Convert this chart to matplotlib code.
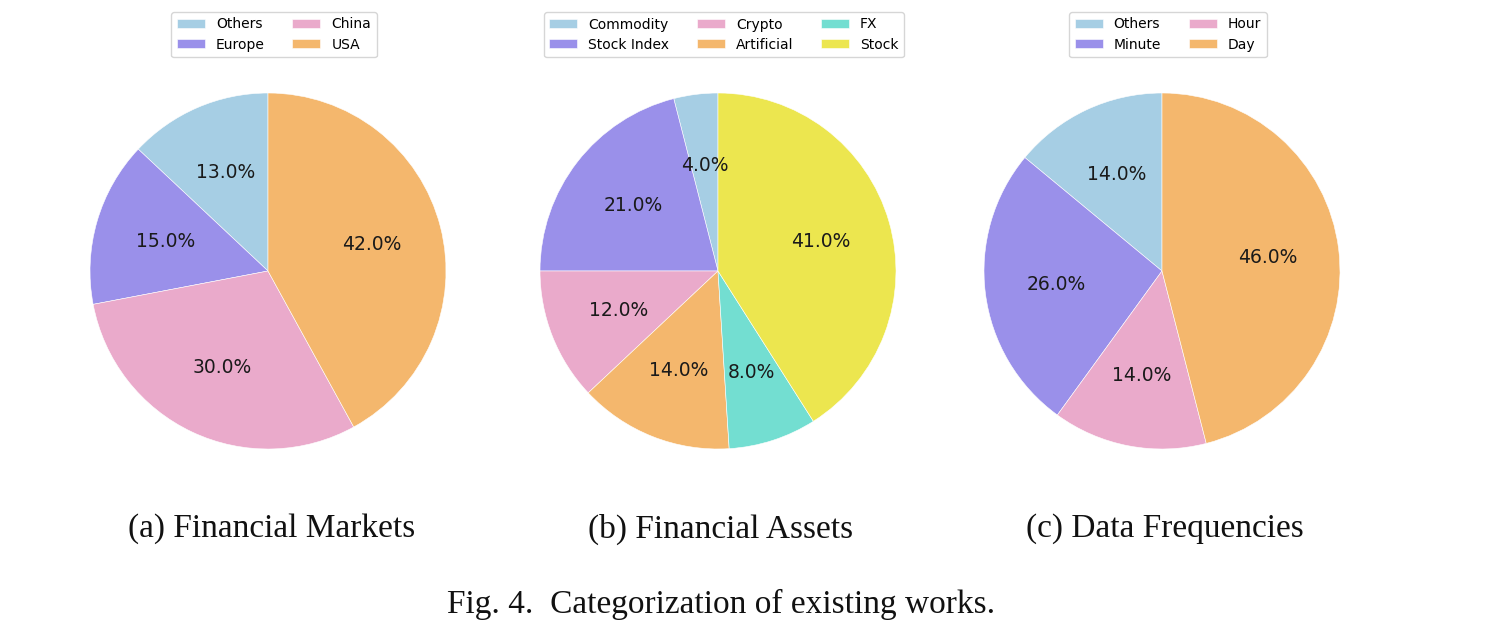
import matplotlib
matplotlib.use("Agg")
import matplotlib.pyplot as plt

# data
market_labels = ["Others", "Europe", "China", "USA"]
market_values = [13, 15, 30, 42]

asset_labels = ["Commodity", "Stock Index", "Crypto", "Artificial", "FX", "Stock"]
asset_values = [4, 21, 12, 14, 8, 41]

freq_labels = ["Others", "Minute", "Hour", "Day"]
freq_values = [14, 26, 14, 46]

subcaptions = ["(a) Financial Markets", "(b) Financial Assets", "(c) Data Frequencies"]
caption = "Fig. 4.  Categorization of existing works."

# colours
c_blue = "#a6cee4"
c_purple = "#9a90ea"
c_pink = "#eaaacb"
c_orange = "#f4b76d"
c_teal = "#73ded1"
c_yellow = "#ece64f"

market_colors = [c_blue, c_purple, c_pink, c_orange]
asset_colors = [c_blue, c_purple, c_pink, c_orange, c_teal, c_yellow]
freq_colors = [c_blue, c_purple, c_pink, c_orange]

W, H = 1500, 623
fig = plt.figure(figsize=(W / 100, H / 100), dpi=100)

centers_x = [268, 718, 1162]
caption_x = [272, 721, 1165]
center_y = 271
radius_px = 178
side = radius_px * 1.25 * 2

panels = [
    (market_values, market_labels, market_colors, 2),
    (asset_values, asset_labels, asset_colors, 3),
    (freq_values, freq_labels, freq_colors, 2),
]

for cx, tx, (vals, labs, cols, ncol), sub in zip(centers_x, caption_x, panels, subcaptions):
    ax = fig.add_axes([(cx - side / 2) / W, 1 - (center_y + side / 2) / H, side / W, side / H])
    wedges, texts, autotexts = ax.pie(
        vals, labels=None, colors=cols, autopct="%1.1f%%", startangle=90,
        counterclock=True, pctdistance=0.6,
        wedgeprops=dict(edgecolor="white", linewidth=0.4),
        textprops=dict(fontsize=13.5, color="#1a1a1a"),
    )
    ax.set_xlim(-1.25, 1.25)
    ax.set_ylim(-1.25, 1.25)
    ax.set_aspect("equal")
    ax.legend(wedges, labs, ncol=ncol, loc="upper center",
              bbox_to_anchor=((cx + 6) / W, 1 - 5 / H), bbox_transform=fig.transFigure,
              fontsize=10, handlelength=2.0, handleheight=0.6, columnspacing=2.0,
              labelspacing=0.45, borderpad=0.4, frameon=True, fancybox=True)
    fig.text(tx / W, 1 - 529 / H, sub, ha="center", va="center",
             fontsize=24, family="Liberation Serif", color="#111111")

fig.text(721 / W, 1 - 604 / H, caption, ha="center", va="center",
         fontsize=24, family="Liberation Serif", color="#111111")

plt.savefig("out.png", dpi=100)
